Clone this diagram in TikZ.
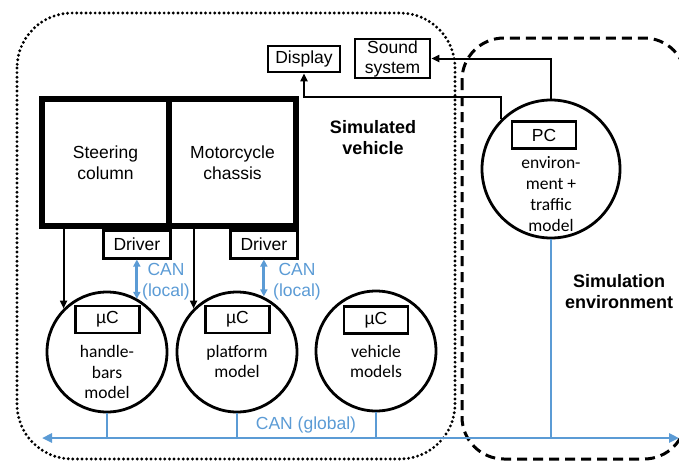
\documentclass[tikz,border=0pt]{standalone}
\usepackage{fontspec}
\setmainfont{Liberation Sans}
\newfontfamily\calfont{Carlito}
\usepackage{xcolor}
\usetikzlibrary{calc,arrows.meta}
\definecolor{canblue}{HTML}{5B9BD5}
\tikzset{
  big/.style={draw=black, line width=5.5pt, minimum width=127pt, minimum height=127pt, inner sep=0pt, align=center, font=\fontsize{17.5}{21}\selectfont},
  box/.style={draw=black, line width=2.8pt, inner sep=0pt, align=center, font=\fontsize{17.5}{20}\selectfont},
  ecu/.style={circle, draw=black, line width=2.8pt, minimum size=120pt, inner sep=0pt},
  mod/.style={align=center, font=\calfont\fontsize{17.5}{20.8}\selectfont},
  head/.style={align=center, font=\bfseries\fontsize{18}{21}\selectfont},
  sig/.style={draw=black, line width=2pt, -{Triangle[length=8pt,width=7pt]}},
  can/.style={draw=canblue, line width=2.8pt},
  canlab/.style={text=canblue, align=center, font=\fontsize{17.5}{21}\selectfont},
  dotline/.style={draw=black, line width=3.2pt, line cap=round, dash pattern=on 0pt off 4.6pt},
  dashline/.style={draw=black, line width=3pt, dash pattern=on 10pt off 6pt},
}
\begin{document}
\begin{tikzpicture}[x=1pt,y=-1pt]
  \useasboundingbox (0,0) rectangle (679,461);
  \clip (0,0) rectangle (679,461);
  % domains
  \draw[dotline, rounded corners=55pt] (17,13) rectangle (455,459);
  \draw[dashline, rounded corners=42pt] (462,38) rectangle (686,459);
  \node[head] (simveh) at (373,137.5) {Simulated\\vehicle};
  \node[head] (simenv) at (619,292) {Simulation\\environment};
  % mechanics
  \node[big] (steer) at (105.5,162.5) {Steering\\column};
  \node[big] (chassis) at (232.5,162.5) {Motorcycle\\chassis};
  \node[box, anchor=north east, minimum width=67pt, minimum height=28pt] (drvA) at (steer.south east) {Driver};
  \node[box, anchor=north east, minimum width=67pt, minimum height=28pt] (drvB) at (chassis.south east) {Driver};
  % controllers
  \node[ecu] (hbar) at (107,352) {};
  \node[ecu] (pform) at (237,352) {};
  \node[ecu] (vmod) at (376,351) {};
  \node[ecu, minimum size=138pt] (pc) at (551,169) {};
  \node[box, minimum width=64pt, minimum height=27pt] (hbarC) at (107.5,319.5) {µC};
  \node[box, minimum width=64pt, minimum height=27pt] (pformC) at (237.5,319.5) {µC};
  \node[box, minimum width=64pt, minimum height=27pt] (vmodC) at (376,320) {µC};
  \node[box, minimum width=64pt, minimum height=27pt] (pcC) at (544,135) {PC};
  \node[mod] (hbarT) at (107,372) {handle-\\bars\\model};
  \node[mod] (pformT) at (237,361.5) {platform\\model};
  \node[mod] (vmodT) at (376,361.5) {vehicle\\models};
  \node[mod] (pcT) at (551,194) {environ-\\ment +\\traffic\\model};
  % outputs
  \node[box, minimum width=72pt, minimum height=26pt] (disp) at (304,59) {Display};
  \node[box, minimum width=75pt, minimum height=39pt] (sound) at (392.5,58.5) {Sound\\system};
  \draw[sig] (pc.north) |- (sound.east);
  \draw[sig] (pc.north west) -- ++(0,-22) -| (disp.south);
  \draw[sig] (hbar.north west |- steer.south) -- (hbar.north west);
  \draw[sig] (pform.north west |- chassis.south) -- (pform.north west);
  % CAN links
  \draw[can, {Triangle[length=7pt,width=7pt]}-{Triangle[length=7pt,width=7pt]}] (drvA.south) -- (drvA.south |- hbar.60);
  \draw[can, {Triangle[length=7pt,width=7pt]}-{Triangle[length=7pt,width=7pt]}] (drvB.south) -- (drvB.south |- pform.65);
  \node[canlab] (canA) at (166,281.5) {CAN\\(local)};
  \node[canlab] (canB) at (297,281.5) {CAN\\(local)};
  \coordinate (busL) at (42,438);
  \coordinate (busR) at (679,438);
  \draw[can, {Triangle[length=10pt,width=9pt]}-{Triangle[length=10pt,width=9pt]}] (busL) -- (busR);
  \draw[can] (hbar.south) -- (hbar.south |- busL);
  \draw[can] (pform.south) -- (pform.south |- busL);
  \draw[can] (vmod.south) -- (vmod.south |- busL);
  \draw[can] (pc.south) -- (pc.south |- busL);
  \node[canlab] (canG) at (306,425) {CAN (global)};
\end{tikzpicture}
\end{document}
